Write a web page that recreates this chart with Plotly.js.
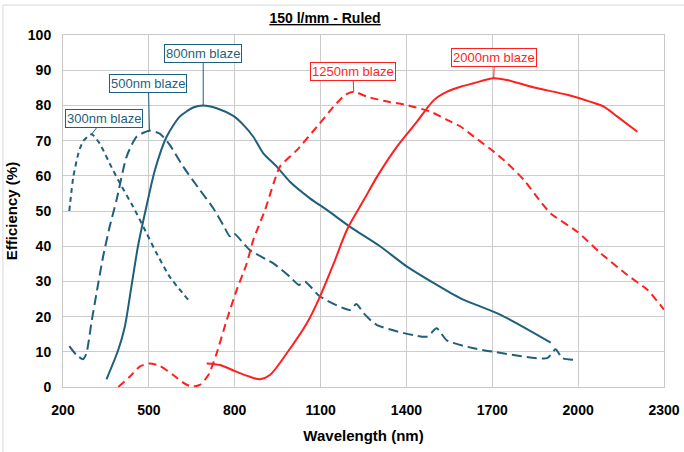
<!DOCTYPE html>
<html>
<head>
<meta charset="utf-8">
<script src="https://cdn.plot.ly/plotly-3.0.1.min.js"></script>
<style>html,body{margin:0;padding:0;background:#fff;}#chart{width:684px;height:452px;}</style>
</head>
<body>
<div id="chart"></div>
<script>
// ---- data ----
const wl300  = [222, 236, 254, 270, 300, 328, 363, 398, 445, 492, 527, 573, 638];
const eff300 = [50, 59.7, 66.4, 69.8, 71.8, 69.2, 63.5, 58, 51.2, 43.7, 38, 31.3, 24.7];

const wl500  = [222, 247, 270, 282, 299, 317, 340, 363, 387, 422, 457, 502, 538, 573, 620, 678, 725, 760, 783, 796, 853, 935, 993, 1024, 1046, 1098, 1203, 1225, 1251, 1297, 1472, 1505, 1542, 1635, 1705, 1892, 1921, 1945, 1986];
const eff500 = [11.6, 9.1, 7.9, 9.6, 18.1, 26.6, 37, 45.5, 53.1, 65.4, 71.1, 72.8, 72, 68.8, 62.6, 56, 50.8, 46, 42.8, 43.7, 38.9, 35.1, 31.3, 29, 29.9, 25.7, 21.9, 23.6, 20.9, 17.6, 14.3, 16.7, 13.2, 11, 10, 8.2, 10.7, 8.2, 7.7];

const wl800  = [352, 393, 416, 439, 462, 488, 521, 562, 608, 655, 690, 737, 795, 831, 865, 900, 947, 993, 1063, 1122, 1203, 1309, 1402, 1496, 1589, 1729, 1904];
const eff800 = [2.2, 10.5, 17.1, 28.5, 40, 50, 61.6, 71.1, 76.8, 79.4, 80, 79.2, 77, 74.4, 71.1, 66.4, 62.6, 58.3, 53.6, 50.3, 45.5, 39.9, 34.2, 29.5, 25.2, 20.5, 12.6];

const wl1250  = [393, 433, 468, 502, 538, 585, 621, 649, 678, 708, 737, 772, 807, 842, 865, 906, 936, 958, 1017, 1087, 1145, 1186, 1216, 1262, 1320, 1402, 1484, 1542, 1589, 1636, 1706, 1753, 1811, 1869, 1904, 1997, 2079, 2172, 2242, 2300];
const eff1250 = [0, 2.9, 5.8, 6.7, 6, 3.4, 1.2, 0.1, 0.6, 3.4, 9.6, 19, 27.6, 35.1, 41.8, 50.3, 57.9, 62.6, 67.3, 73.9, 79.6, 83, 83.9, 82.5, 81.3, 80.1, 78.2, 75.9, 74, 71.1, 66.8, 63.5, 58.8, 52.6, 49.3, 44.1, 38, 31.8, 27.6, 22];

const wl2000  = [702, 748, 807, 853, 888, 923, 982, 1052, 1098, 1146, 1192, 1251, 1297, 1367, 1437, 1496, 1542, 1589, 1635, 1705, 1752, 1846, 1962, 2044, 2091, 2137, 2207];
const eff2000 = [6.7, 6.25, 4.3, 2.9, 2.2, 3.4, 9.6, 18.1, 25.7, 35.1, 44.6, 53.1, 59.7, 68.3, 75.4, 81.5, 83.9, 85.3, 86.3, 87.7, 87.2, 85.1, 83, 81, 79.6, 76.8, 72.5];

const seriesNames = ["300nm blaze", "500nm blaze", "800nm blaze", "1250nm blaze", "2000nm blaze"];
const xTicks = [200, 500, 800, 1100, 1400, 1700, 2000, 2300];
const yTicks = [0, 10, 20, 30, 40, 50, 60, 70, 80, 90, 100];

// ---- styles ----
const TEAL = "#1f5f7b";
const RED = "#ff1f1f";
const xs = [wl300, wl500, wl800, wl1250, wl2000];
const ys = [eff300, eff500, eff800, eff1250, eff2000];
const colors = [TEAL, TEAL, TEAL, RED, RED];
const dashes = ["5px,4px", "10px,5px", "solid", "8px,5px", "solid"];
const smooth = [0.6, 0.6, 0.7, 0.6, 0.8];
const labelOffsets = [[12, -15.5], [-1, -47.5], [0, -51.5], [-1, -19.7], [0.7, -21.3]];

const traces = xs.map((x, i) => ({
  x: x, y: ys[i], name: seriesNames[i], type: "scatter", mode: "lines",
  line: {color: colors[i], width: 2, dash: dashes[i], shape: "spline", smoothing: smooth[i]},
  hoverinfo: "skip", cliponaxis: true
}));

const annotations = xs.map((x, i) => {
  const y = ys[i];
  let k = 0;
  y.forEach((v, j) => { if (v > y[k]) k = j; });
  return {
    x: x[k], y: y[k], xref: "x", yref: "y",
    text: seriesNames[i], showarrow: true, arrowhead: 0, arrowwidth: 1,
    arrowcolor: colors[i], ax: labelOffsets[i][0], ay: labelOffsets[i][1],
    font: {family: "Liberation Sans, Arial, sans-serif", size: 13, color: colors[i]},
    bgcolor: "#ffffff", bordercolor: colors[i], borderwidth: 1, borderpad: 1
  };
});

const FONT = "Liberation Sans, Arial, sans-serif";
const layout = {
  width: 684, height: 452,
  margin: {l: 63, r: 20, t: 35, b: 65},
  paper_bgcolor: "#ffffff", plot_bgcolor: "#ffffff",
  showlegend: false,
  font: {family: FONT, color: "#000"},
  title: {
    text: "<b><span style=\"text-decoration:underline\">150 l/mm - Ruled</span></b>",
    font: {family: FONT, size: 14, color: "#000"},
    xref: "paper", x: 0.436, xanchor: "center",
    yref: "container", y: 0.96, yanchor: "middle"
  },
  xaxis: {
    range: [200, 2300], tickvals: xTicks, ticktext: xTicks.map(String),
    showgrid: true, gridcolor: "#cccccc", gridwidth: 1,
    showline: true, linecolor: "#c8c8c8", linewidth: 1, mirror: true,
    zeroline: false, ticks: "", ticklabelstandoff: 10,
    tickfont: {family: FONT, size: 14, color: "#000", weight: "bold"},
    title: {text: "<b>Wavelength (nm)</b>", font: {family: FONT, size: 15, color: "#000"}, standoff: 13},
    automargin: false, fixedrange: true
  },
  yaxis: {
    range: [0, 100], tickvals: yTicks, ticktext: yTicks.map(String),
    showgrid: true, gridcolor: "#cccccc", gridwidth: 1,
    showline: true, linecolor: "#c8c8c8", linewidth: 1, mirror: true,
    zeroline: false, ticks: "", ticklabelstandoff: 8,
    tickfont: {family: FONT, size: 14, color: "#000", weight: "bold"},
    title: {text: "<b>Efficiency (%)</b>", font: {family: FONT, size: 15, color: "#000"}, standoff: 6},
    automargin: false, fixedrange: true
  },
  shapes: [{
    type: "rect", xref: "paper", yref: "paper",
    x0: -0.1, x1: 1.2, y0: -0.4, y1: 1.085,
    line: {color: "#d9d9d9", width: 1}, fillcolor: "rgba(0,0,0,0)", layer: "below"
  }],
  annotations: annotations
};

Plotly.newPlot("chart", traces, layout, {staticPlot: true, displayModeBar: false});
</script>
</body>
</html>
